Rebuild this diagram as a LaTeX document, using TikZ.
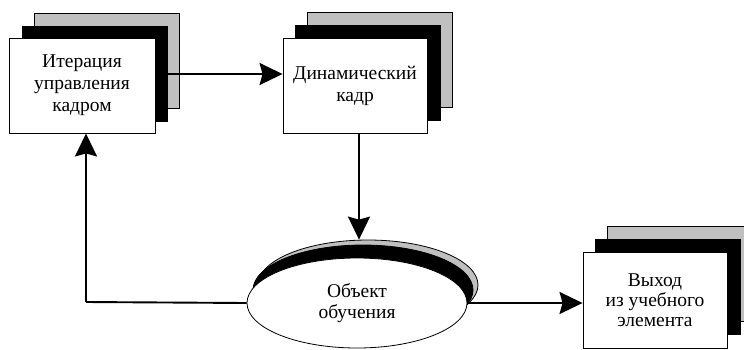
\documentclass[tikz,border=0pt]{standalone}
\usepackage{fontspec}
\setmainfont{Liberation Serif}
\usetikzlibrary{shapes.geometric,arrows.meta}
\definecolor{shadowgray}{RGB}{192,192,192}
\tikzset{
  x=1pt,y=1pt,
  card/.style={draw=black,line width=0.9pt,minimum width=145pt,minimum height=95pt,inner sep=0pt},
  front/.style={card,fill=white,align=center,font=\fontsize{19.5}{22}\selectfont},
  back1/.style={card,fill=black},
  back2/.style={card,fill=shadowgray},
  oval/.style={ellipse,draw=black,line width=0.8pt,minimum width=220pt,minimum height=90pt,inner sep=0pt},
  conn/.style={line width=1.9pt,-{Stealth[length=23pt,width=22pt,inset=3pt]}},
  plain/.style={line width=1.9pt}
}
\begin{document}
\begin{tikzpicture}
\useasboundingbox (0,0) rectangle (744,-349);
% box 1
\node[back2] (b1g) at (106.5,-61) {};
\node[back1] (b1k) at (94.5,-74) {};
\node[front,minimum width=146pt] (b1) at (82,-85.5) {Итерация\\управления\\кадром};
% box 2
\node[back2] (b2g) at (380,-60) {};
\node[back1] (b2k) at (367.5,-73) {};
\node[front,minimum width=144pt] (b2) at (355,-85.5) {Динамический\\кадр};
% box 3
\node[back2] (b3g) at (680,-274) {};
\node[back1] (b3k) at (667.5,-287) {};
\node[front,minimum width=144pt,minimum height=96pt,font=\fontsize{19.5}{20}\selectfont] (b3) at (655,-300) {Выход\\из учебного\\элемента};
% ellipse
\node[oval,fill=shadowgray] (eg) at (368,-285) {};
\node[oval,fill=black] (ek) at (363,-290) {};
\node[oval,fill=white,align=center,font=\fontsize{19.5}{21}\selectfont] (ew) at (357,-303) {Объект\\обучения};
% connectors
\draw[conn] (b1k.east) -- (b1k.east -| b2.west);
\draw[conn] ([xshift=4pt]b2.south) -- ([xshift=4pt]b2.south |- eg.north);
\coordinate (c1) at (86,-302);
\draw[plain] (ew.west) -- (c1);
\draw[conn] (c1) -- (c1 |- b1.south);
\draw[conn] (ew.east) -- (ew.east -| b3.west);
\end{tikzpicture}
\end{document}
